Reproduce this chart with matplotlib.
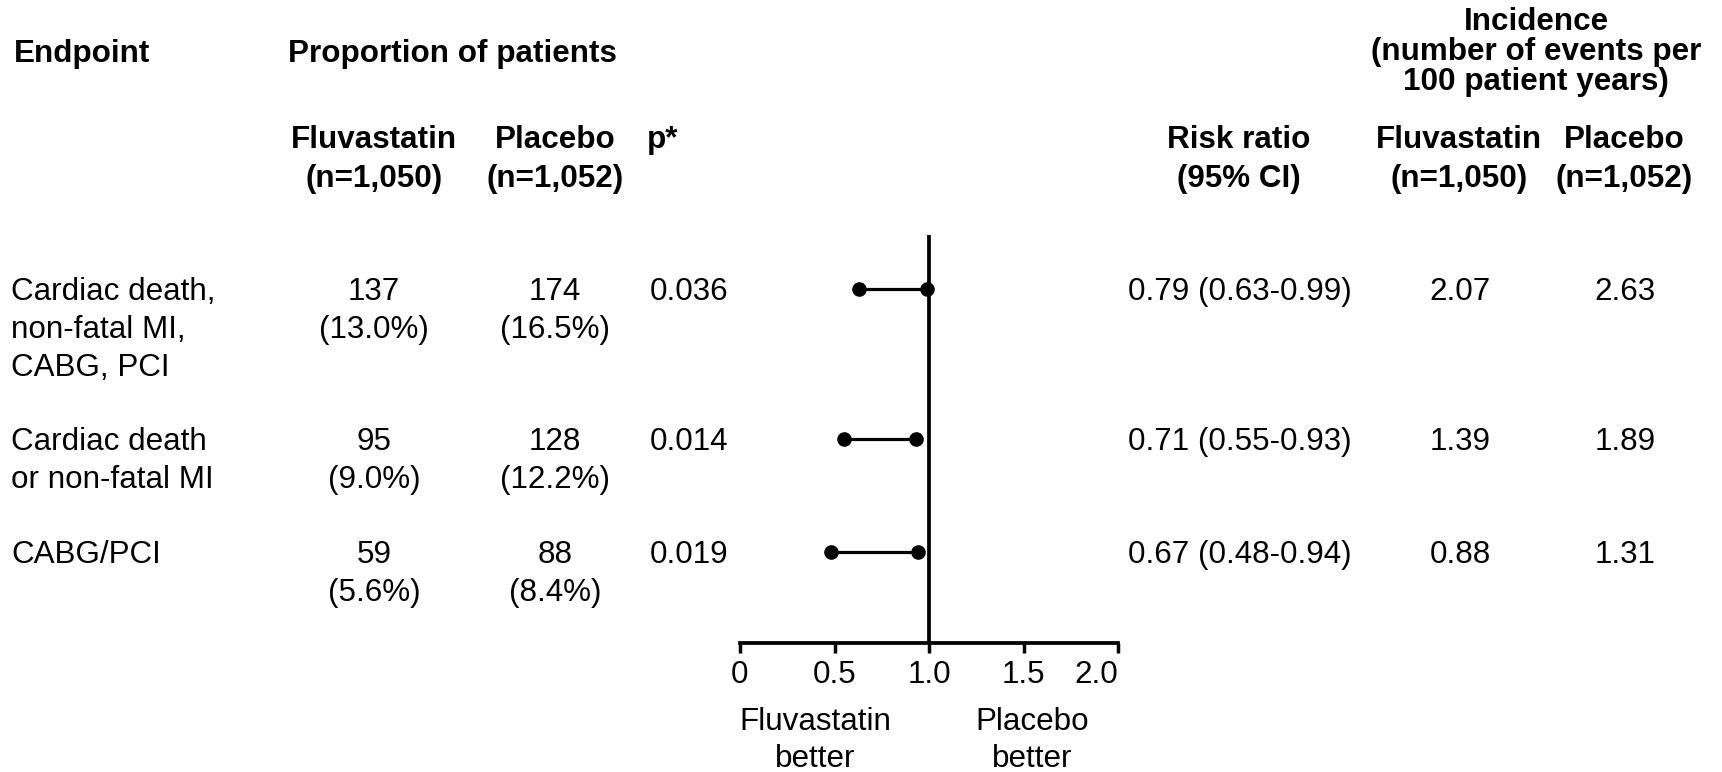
import matplotlib
matplotlib.use("Agg")
import matplotlib.pyplot as plt

# ---------------- data ----------------
endpoints = ["Cardiac death,\nnon-fatal MI,\nCABG, PCI",
             "Cardiac death\nor non-fatal MI",
             "CABG/PCI"]
fluva_n = [137, 95, 59]
fluva_pct = [13.0, 9.0, 5.6]
placebo_n = [174, 128, 88]
placebo_pct = [16.5, 12.2, 8.4]
p_values = ["0.036", "0.014", "0.019"]
risk_ratio = [0.79, 0.71, 0.67]
ci_low = [0.63, 0.55, 0.48]
ci_high = [0.99, 0.93, 0.94]
inc_fluva = [2.07, 1.39, 0.88]
inc_placebo = [2.63, 1.89, 1.31]
x_ticks = [0, 0.5, 1.0, 1.5, 2.0]
x_ticklabels = ["0", "0.5", "1.0", "1.5", "2.0"]

# ---------------- layout ----------------
W, H = 1722, 772
FS = 22.6
FAM = ["Liberation Sans", "DejaVu Sans"]

fig = plt.figure(figsize=(W / 100, H / 100), dpi=100)
fig.patch.set_facecolor("white")


def put(x, y_base, s, ha="left", weight="normal", step=38):
    for i, line in enumerate(s.split("\n")):
        fig.text(x / W, 1 - (y_base + i * step) / H, line, ha=ha, va="baseline",
                 fontsize=FS, fontweight=weight, family=FAM, color="black")


# headers
put(14, 62, "Endpoint", weight="bold")
put(288, 62, "Proportion of patients", weight="bold")
put(374, 148, "Fluvastatin\n(n=1,050)", ha="center", weight="bold", step=39)
put(555, 148, "Placebo\n(n=1,052)", ha="center", weight="bold", step=39)
put(647, 148, "p*", weight="bold")
put(1239, 148, "Risk ratio\n(95% CI)", ha="center", weight="bold", step=39)
put(1536, 30, "Incidence\n(number of events per\n100 patient years)", ha="center",
    weight="bold", step=30)
put(1459, 148, "Fluvastatin\n(n=1,050)", ha="center", weight="bold", step=39)
put(1624, 148, "Placebo\n(n=1,052)", ha="center", weight="bold", step=39)

# rows
row_base = [300, 450, 563]
for i in range(len(endpoints)):
    b = row_base[i]
    put(11, b, endpoints[i])
    put(374, b, f"{fluva_n[i]}\n({fluva_pct[i]:.1f}%)", ha="center")
    put(555, b, f"{placebo_n[i]}\n({placebo_pct[i]:.1f}%)", ha="center")
    put(650, b, p_values[i])
    put(1240, b, f"{risk_ratio[i]:.2f} ({ci_low[i]:.2f}-{ci_high[i]:.2f})", ha="center")
    put(1460, b, f"{inc_fluva[i]:.2f}", ha="center")
    put(1625, b, f"{inc_placebo[i]:.2f}", ha="center")

# forest axes (y in pixel-like layout units, inverted)
ax_left, ax_right, ax_top, ax_bot = 740, 1118, 235, 643
ax = fig.add_axes([ax_left / W, 1 - ax_bot / H, (ax_right - ax_left) / W,
                   (ax_bot - ax_top) / H])
ax.set_xlim(0, 2)
ax.set_ylim(ax_bot, ax_top)
ax.patch.set_alpha(0)
for s in ["top", "right", "left"]:
    ax.spines[s].set_visible(False)
ax.spines["bottom"].set_linewidth(2.7)
ax.spines["bottom"].set_capstyle("projecting")
ax.set_yticks([])
ax.set_xticks(x_ticks, x_ticklabels)
ax.tick_params(axis="x", length=7.5, width=2.5, labelsize=FS, pad=5, direction="out")
labs = ax.get_xticklabels()
for lab in labs:
    lab.set_family(FAM)
labs[-1].set_horizontalalignment("right")

ax.axvline(1.0, color="black", lw=2.7)
for i in range(len(endpoints)):
    y = row_base[i] - 11
    ax.plot([ci_low[i], ci_high[i]], [y, y], color="black", lw=2.3,
            marker="o", ms=9.5, clip_on=False)

put(815, 730, "Fluvastatin\nbetter", ha="center", step=37)
put(1032, 730, "Placebo\nbetter", ha="center", step=37)

fig.savefig("out.png", dpi=100, facecolor="white")
